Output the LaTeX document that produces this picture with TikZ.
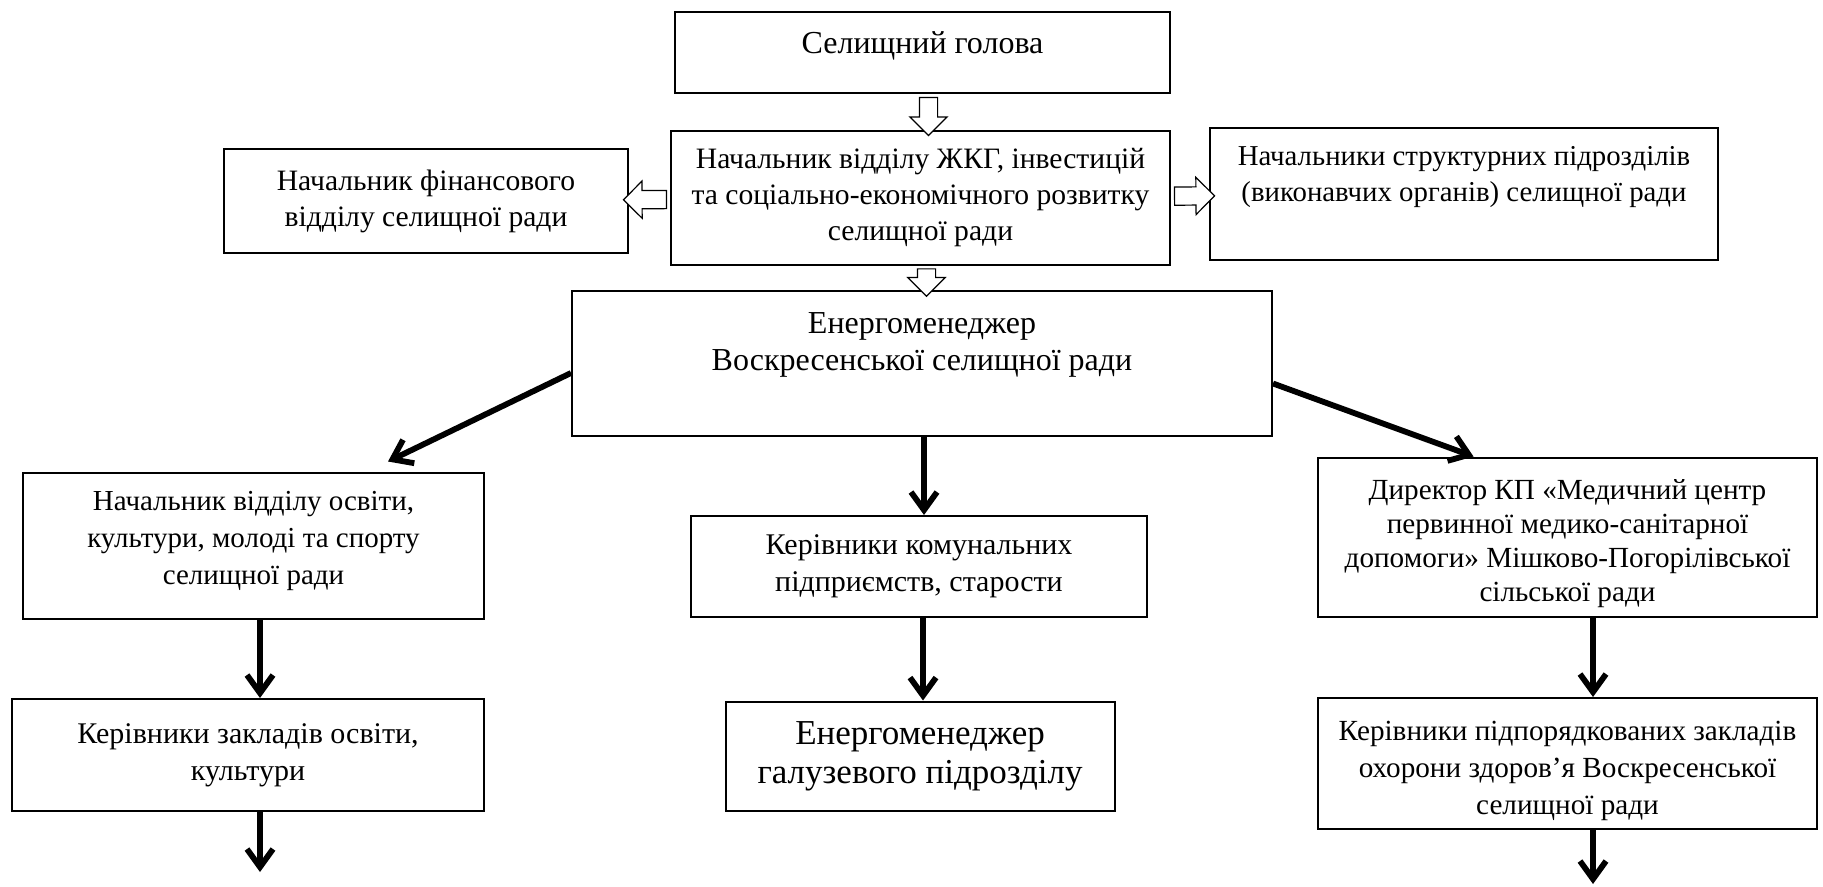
\documentclass[tikz,border=0pt]{standalone}
\usepackage{fontspec}
\setmainfont{Liberation Serif}
\usetikzlibrary{positioning,arrows.meta,shapes.arrows}

\begin{document}
\begin{tikzpicture}[
  x=0.5pt, y=-0.5pt,
  box/.style={rectangle, draw=black, line width=1pt, fill=white, align=center, inner sep=3pt, font=\fontsize{15}{18.5}\selectfont},
  hollow/.style={single arrow, draw=black, line width=0.6pt, fill=white, inner sep=4.25pt, single arrow head extend=4.75pt, single arrow tip angle=90, sloped, allow upside down},
  link/.style={line width=2.9pt, -{Straight Barb[length=9pt, width=13pt]}}
]
\useasboundingbox (0,0) rectangle (1823,887);

% Top: head of the council and the ZhKG department
\node[box, minimum width=247.5pt, minimum height=40.5pt, text depth=9.5pt, font=\fontsize{16}{18.5}\selectfont] (head) at (922.5,52.5) {Селищний голова};
\node[box, minimum width=249.5pt, minimum height=67pt, font=\fontsize{14.8}{18}\selectfont] (zhkg) at (920.5,198) {Начальник відділу ЖКГ, інвестицій\\та соціально-економічного розвитку\\селищної ради};
\node[box, minimum width=202pt, minimum height=52pt, font=\fontsize{14.8}{18}\selectfont] (fin) at (426,201) {Начальник фінансового\\відділу селищної ради};
\node[box, minimum width=254pt, minimum height=66pt, text depth=20pt, font=\fontsize{14.4}{18}\selectfont] (struct) at (1464,194) {Начальники структурних підрозділів\\(виконавчих органів) селищної ради};

% Energy manager
\node[box, minimum width=350pt, minimum height=72.5pt, text depth=21.5pt, font=\fontsize{16}{18.5}\selectfont] (energo) at (922,363.5) {Енергоменеджер\\Воскресенської селищної ради};

% Three branches
\node[box, minimum width=230.5pt, minimum height=73pt, text depth=7.5pt, font=\fontsize{14.5}{18.5}\selectfont] (osvita) at (253.5,545.5) {Начальник відділу освіти,\\культури, молоді та спорту\\селищної ради};
\node[box, minimum width=228pt, minimum height=50.5pt] (komun) at (919,566.5) {Керівники комунальних\\підприємств, старости};
\node[box, minimum width=249.5pt, minimum height=79.5pt, font=\fontsize{14.6}{17}\selectfont] (medcentr) at (1567.5,537) {\rule{0pt}{17pt}Директор КП «Медичний центр\\первинної медико-санітарної\\допомоги» Мішково-Погорілівської\\сільської ради};

\node[box, minimum width=236pt, minimum height=56pt] (zaklady) at (248,755) {Керівники закладів освіти,\\культури};
\node[box, minimum width=194.5pt, minimum height=54.5pt, font=\fontsize{17.5}{19.5}\selectfont] (energo2) at (920,756) {Енергоменеджер\\галузевого підрозділу};
\node[box, minimum width=249.5pt, minimum height=65.5pt, font=\fontsize{14.6}{18.5}\selectfont] (zdorovya) at (1567.5,763.5) {\rule{0pt}{17.5pt}Керівники підпорядкованих закладів\\охорони здоров’я Воскресенської\\селищної ради};

% free ends at the bottom
\coordinate (osvitaend) at (260,872);
\coordinate (zdorovend) at (1593,884);

% Hollow block arrows
\path ([xshift=3pt]head.south) -- node[hollow, minimum height=19pt]{} ([xshift=3pt]head.south |- zhkg.north);
\path ([xshift=3pt]zhkg.south) -- node[hollow, minimum height=13pt]{} ([xshift=3pt]zhkg.south |- energo.north);
\path (zhkg) -- node[hollow, minimum height=21.5pt]{} (fin);
\path (zhkg) -- node[hollow, minimum height=20pt]{} (struct);

% Thick arrows
\draw[link] ([yshift=-4.75pt]energo.west) -- ([shift={(67.25pt,5pt)}]osvita.north);
\draw[link] ([xshift=1pt]energo.south) -- ([xshift=1pt]energo.south |- komun.north);
\draw[link] ([yshift=-10pt]energo.east) -- ([xshift=-47pt]medcentr.north);
\draw[link] ([xshift=3.25pt]osvita.south) -- ([xshift=3.25pt]osvita.south |- zaklady.north);
\draw[link] ([xshift=2pt]komun.south) -- ([xshift=2pt]komun.south |- energo2.north);
\draw[link] ([xshift=12.75pt]medcentr.south) -- ([xshift=12.75pt]medcentr.south |- zdorovya.north);
\draw[link] ([xshift=6pt]zaklady.south) -- (osvitaend);
\draw[link] ([xshift=12.75pt]zdorovya.south) -- (zdorovend);

\end{tikzpicture}
\end{document}
